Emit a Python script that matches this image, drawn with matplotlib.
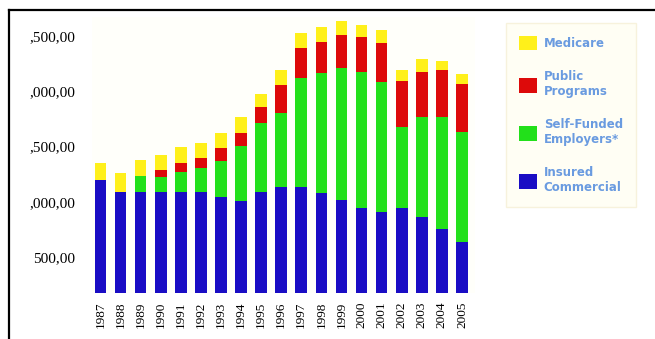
import matplotlib
matplotlib.use("Agg")
import matplotlib.pyplot as plt
from matplotlib.lines import Line2D
from matplotlib.patches import Patch
import numpy as np

years = ["1987", "1988", "1989", "1990", "1991", "1992", "1993", "1994", "1995", "1996",
         "1997", "1998", "1999", "2000", "2001", "2002", "2003", "2004", "2005"]
insured_commercial = [1197000, 1089000, 1089000, 1089000, 1089000, 1089000, 1043000, 1007000, 1089000, 1134000,
                      1134000, 1080000, 1016000, 944000, 908000, 944000, 862000, 754000, 636000]
self_funded = [0, 0, 145000, 136000, 181000, 217000, 326000, 498000, 625000, 670000,
               987000, 1087000, 1196000, 1232000, 1178000, 734000, 906000, 1014000, 996000]
public_programs = [0, 0, 0, 63000, 82000, 91000, 118000, 118000, 145000, 254000,
                   272000, 281000, 299000, 317000, 353000, 417000, 408000, 426000, 435000]
medicare = [154000, 172000, 145000, 136000, 145000, 136000, 136000, 145000, 118000, 136000,
            136000, 136000, 127000, 109000, 118000, 100000, 118000, 82000, 91000]
ytick_values = [500000, 1000000, 1500000, 2000000, 2500000]
ytick_labels = ["500,00", ",000,00", ",500,00", ",000,00", ",500,00"]
legend_labels = ["Medicare", "Public\nPrograms", "Self-Funded\nEmployers*", "Insured\nCommercial"]

c_blue, c_green, c_red, c_yellow = "#1a0dc4", "#22e01a", "#dd0a0a", "#fff01a"

W, H = 655, 339
fig = plt.figure(figsize=(W / 100, H / 100), dpi=100)
fig.patch.set_facecolor("white")

ax = fig.add_axes([92 / W, 1 - 293 / H, (475 - 92) / W, (293 - 17) / H])
ax.set_facecolor("#fffffa")

x = np.arange(len(years))
bw = 0.58
b1 = np.array(insured_commercial)
b2 = b1 + np.array(self_funded)
b3 = b2 + np.array(public_programs)
ax.bar(x, insured_commercial, bw, color=c_blue, label="Insured\nCommercial")
ax.bar(x, self_funded, bw, bottom=b1, color=c_green, label="Self-Funded\nEmployers*")
ax.bar(x, public_programs, bw, bottom=b2, color=c_red, label="Public\nPrograms")
ax.bar(x, medicare, bw, bottom=b3, color=c_yellow, label="Medicare")

ax.set_xlim(-0.42, 18.65)
ax.set_ylim(174000, 500000 + (257 - 17) * 9058)
ax.set_xticks(x)
ax.set_xticklabels(years, rotation=90, family="Liberation Serif", fontsize=9.5)
ax.set_yticks(ytick_values)
ax.set_yticklabels(ytick_labels, family="Liberation Serif", fontsize=11)
ax.tick_params(axis="both", length=0)
ax.tick_params(axis="x", pad=6)
ax.tick_params(axis="y", pad=12)
for s in ax.spines.values():
    s.set_visible(False)

handles = [Patch(facecolor=c, edgecolor="none") for c in (c_yellow, c_red, c_green, c_blue)]
leg = fig.legend(handles, legend_labels, loc="upper left",
                 bbox_to_anchor=(500 / W, 1 - 17 / H),
                 frameon=True, fancybox=False, handlelength=1.5, handleheight=1.5,
                 labelspacing=1.7, borderpad=1.1, handletextpad=0.6,
                 prop={"family": "DejaVu Sans", "weight": "bold", "size": 8.5})
leg.get_frame().set_facecolor("#fffef2")
leg.get_frame().set_edgecolor("#f5f0d5")
for t in leg.get_texts():
    t.set_color("#6a9be0")

fig.add_artist(Line2D([8.5 / W, 8.5 / W], [0, 1 - 10 / H], color="black", lw=1.6))
fig.add_artist(Line2D([8.5 / W, 1], [1 - 10 / H, 1 - 10 / H], color="black", lw=1.6))

fig.savefig("out.png", dpi=100)
